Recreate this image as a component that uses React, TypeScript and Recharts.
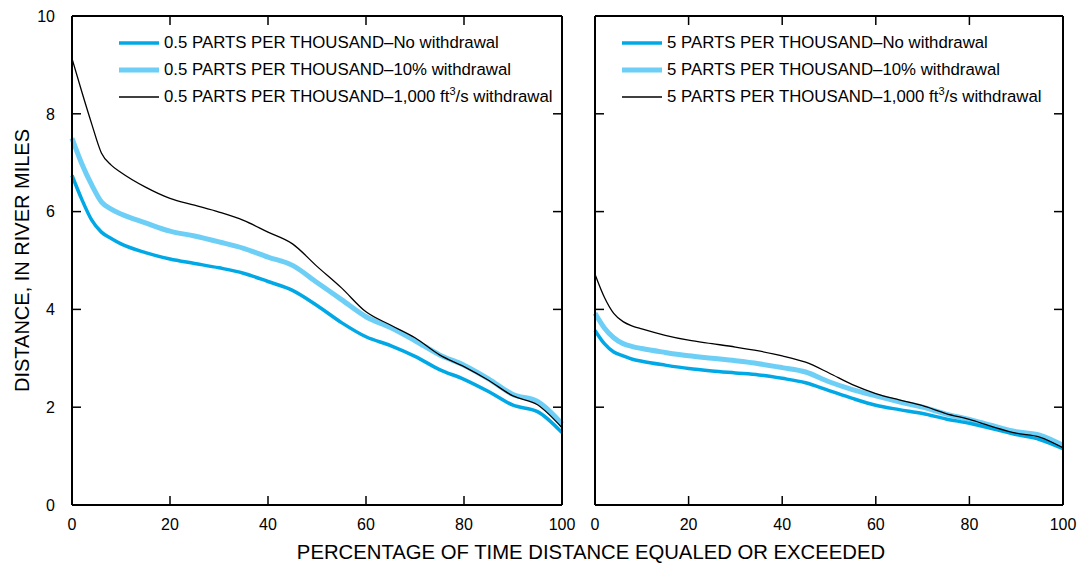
import React from "react";
import { LineChart, Line, XAxis, YAxis, Legend } from "recharts";

// percentage of time (x) shared by all curves
const PCT = [0, 2, 4, 6, 8, 10, 15, 20, 25, 30, 35, 40, 45, 50, 55, 60, 65, 70, 75, 80, 85, 90, 95, 100];

// 0.5 ppt panel
const LEFT_NO = [6.74, 6.25, 5.83, 5.58, 5.45, 5.34, 5.16, 5.03, 4.94, 4.85, 4.74, 4.57, 4.39, 4.08, 3.73, 3.44, 3.26, 3.04, 2.77, 2.57, 2.32, 2.04, 1.91, 1.48];
const LEFT_TEN = [7.5, 6.98, 6.55, 6.2, 6.05, 5.95, 5.77, 5.6, 5.5, 5.38, 5.25, 5.07, 4.9, 4.55, 4.2, 3.85, 3.63, 3.36, 3.07, 2.86, 2.58, 2.26, 2.12, 1.66];
const LEFT_CFS = [9.13, 8.45, 7.8, 7.2, 6.95, 6.8, 6.5, 6.27, 6.13, 5.99, 5.82, 5.58, 5.34, 4.88, 4.44, 3.95, 3.68, 3.42, 3.07, 2.83, 2.55, 2.23, 2.05, 1.58];

// 5 ppt panel
const RIGHT_NO = [3.57, 3.3, 3.13, 3.05, 2.98, 2.94, 2.86, 2.79, 2.74, 2.7, 2.66, 2.59, 2.5, 2.34, 2.18, 2.04, 1.95, 1.87, 1.76, 1.67, 1.56, 1.44, 1.34, 1.15];
const RIGHT_TEN = [3.92, 3.62, 3.42, 3.3, 3.24, 3.2, 3.12, 3.05, 3.0, 2.95, 2.89, 2.81, 2.72, 2.52, 2.36, 2.23, 2.11, 2.0, 1.86, 1.75, 1.62, 1.5, 1.43, 1.22];
const RIGHT_CFS = [4.72, 4.25, 3.92, 3.75, 3.66, 3.6, 3.47, 3.37, 3.3, 3.23, 3.15, 3.05, 2.92, 2.7, 2.46, 2.28, 2.15, 2.03, 1.87, 1.75, 1.6, 1.47, 1.39, 1.17];

const X_TICKS = [0, 20, 40, 60, 80, 100];
const Y_TICKS = [0, 2, 4, 6, 8, 10];

const FONT = "'Liberation Sans', Arial, Helvetica, sans-serif";
const BLUE = "#00a9e6";
const LIGHT = "#6dcff6";
const TICK_LEN = 9;
const TICK_W = 1.5;
const X_GAP = 13;
const Y_GAP = 17;
const PLOT_TOP = 16;

const build = (no: number[], ten: number[], cfs: number[]) =>
  PCT.map((p, i) => ({ pct: p, no: no[i], ten: ten[i], cfs: cfs[i] }));

const leftData = build(LEFT_NO, LEFT_TEN, LEFT_CFS);
const rightData = build(RIGHT_NO, RIGHT_TEN, RIGHT_CFS);

const frame = { stroke: "#000", strokeWidth: 2 };

// inward ticks on both opposite sides of the frame, drawn from the main axes
const BottomTick = ({ x, y, payload, top }: any) => (
  <g>
    <line x1={x} x2={x} y1={y - X_GAP} y2={y - X_GAP - TICK_LEN} stroke="#000" strokeWidth={TICK_W} />
    <line x1={x} x2={x} y1={top} y2={top + TICK_LEN} stroke="#000" strokeWidth={TICK_W} />
    <text x={x} y={y} dy="0.72em" textAnchor="middle" fontSize={16} fontFamily={FONT} fill="#000">
      {payload.value}
    </text>
  </g>
);
const LeftTick = ({ x, y, payload, right, showLabel }: any) => (
  <g>
    <line x1={x + Y_GAP} x2={x + Y_GAP + TICK_LEN} y1={y} y2={y} stroke="#000" strokeWidth={TICK_W} />
    <line x1={right} x2={right - TICK_LEN} y1={y} y2={y} stroke="#000" strokeWidth={TICK_W} />
    {showLabel && (
      <text x={x} y={y} dy="0.36em" textAnchor="end" fontSize={16} fontFamily={FONT} fill="#000">
        {payload.value}
      </text>
    )}
  </g>
);

const makeLegend = (prefix: string) => () => (
  <div style={{ fontFamily: FONT, fontSize: 16.8, color: "#000", lineHeight: "27px" }}>
    {[
      { color: BLUE, w: 3.5, text: <>{prefix}–No withdrawal</> },
      { color: LIGHT, w: 5, text: <>{prefix}–10% withdrawal</> },
      {
        color: "#000",
        w: 1.3,
        text: (
          <>
            {prefix}–1,000 ft<sup style={{ fontSize: 11, lineHeight: 0 }}>3</sup>/s withdrawal
          </>
        ),
      },
    ].map((r, i) => (
      <div key={i} style={{ display: "flex", alignItems: "center", height: 27, whiteSpace: "nowrap" }}>
        <svg width={40} height={10} style={{ marginRight: 5 }}>
          <line x1={0} x2={40} y1={5} y2={5} stroke={r.color} strokeWidth={r.w} />
        </svg>
        <span>{r.text}</span>
      </div>
    ))}
  </div>
);

type PanelProps = {
  data: any[];
  width: number;
  margin: { top: number; right: number; bottom: number; left: number };
  yLabelWidth: number;
  showY: boolean;
  prefix: string;
  legendLeft: number;
};

const Panel = ({ data, width, margin, yLabelWidth, showY, prefix, legendLeft }: PanelProps) => {
  const plotRight = width - margin.right - 1;
  return (
    <LineChart width={width} height={570} data={data} margin={margin}>
      <XAxis
        dataKey="pct"
        type="number"
        domain={[0, 100]}
        ticks={X_TICKS}
        interval={0}
        height={30}
        axisLine={frame}
        tickLine={false}
        tickSize={0}
        tickMargin={X_GAP}
        tick={<BottomTick top={PLOT_TOP} />}
      />
      <XAxis
        xAxisId="top"
        orientation="top"
        type="number"
        domain={[0, 100]}
        height={1}
        axisLine={frame}
        tickLine={false}
        tick={false}
      />
      <YAxis
        type="number"
        domain={[0, 10]}
        ticks={Y_TICKS}
        interval={0}
        width={yLabelWidth}
        axisLine={frame}
        tickLine={false}
        tickSize={0}
        tickMargin={Y_GAP}
        tick={<LeftTick right={plotRight} showLabel={showY} />}
        label={
          showY
            ? {
                value: "DISTANCE, IN RIVER MILES",
                angle: -90,
                position: "insideLeft",
                offset: 10,
                style: { textAnchor: "middle", fontSize: 20, fill: "#000", fontFamily: FONT },
              }
            : undefined
        }
      />
      <YAxis
        yAxisId="right"
        orientation="right"
        type="number"
        domain={[0, 10]}
        width={1}
        axisLine={frame}
        tickLine={false}
        tick={false}
      />
      <Legend
        layout="vertical"
        align="center"
        verticalAlign="middle"
        content={makeLegend(prefix)}
        wrapperStyle={{ top: 29, left: legendLeft, width: 460 }}
      />
      <Line type="monotone" dataKey="ten" stroke={LIGHT} strokeWidth={5} dot={false} isAnimationActive={false} />
      <Line type="monotone" dataKey="no" stroke={BLUE} strokeWidth={3.5} dot={false} isAnimationActive={false} />
      <Line type="monotone" dataKey="cfs" stroke="#000" strokeWidth={1.3} dot={false} isAnimationActive={false} />
    </LineChart>
  );
};

export default function App() {
  return (
    <div
      style={{
        position: "absolute",
        left: 0,
        top: 0,
        width: 1077,
        height: 570,
        background: "#fff",
        fontFamily: FONT,
      }}
    >
      <div style={{ position: "absolute", left: 0, top: 0 }}>
        <Panel
          data={leftData}
          width={580}
          margin={{ top: 15, right: 17, bottom: 35, left: 12 }}
          yLabelWidth={60}
          showY
          prefix="0.5 PARTS PER THOUSAND"
          legendLeft={119}
        />
      </div>
      <div style={{ position: "absolute", left: 580, top: 0 }}>
        <Panel
          data={rightData}
          width={497}
          margin={{ top: 15, right: 13, bottom: 35, left: 14 }}
          yLabelWidth={1}
          showY={false}
          prefix="5 PARTS PER THOUSAND"
          legendLeft={42}
        />
      </div>
      <div
        style={{
          position: "absolute",
          left: 0,
          width: 1182,
          top: 540,
          textAlign: "center",
          fontSize: 20.3,
          lineHeight: "24px",
          color: "#000",
        }}
      >
        PERCENTAGE OF TIME DISTANCE EQUALED OR EXCEEDED
      </div>
    </div>
  );
}
